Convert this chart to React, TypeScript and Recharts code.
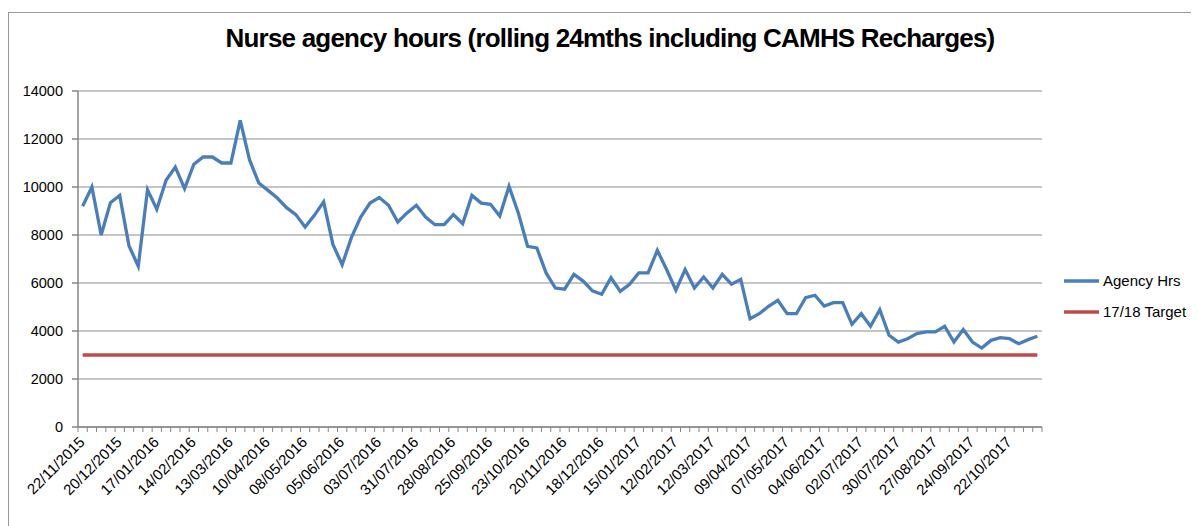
import { CartesianGrid, Legend, Line, LineChart, XAxis, YAxis } from "recharts";

// week-ending dates (weekly, Sundays)
const weeks = [
  "22/11/2015", "29/11/2015", "06/12/2015", "13/12/2015", "20/12/2015", "27/12/2015",
  "03/01/2016", "10/01/2016", "17/01/2016", "24/01/2016", "31/01/2016", "07/02/2016",
  "14/02/2016", "21/02/2016", "28/02/2016", "06/03/2016", "13/03/2016", "20/03/2016",
  "27/03/2016", "03/04/2016", "10/04/2016", "17/04/2016", "24/04/2016", "01/05/2016",
  "08/05/2016", "15/05/2016", "22/05/2016", "29/05/2016", "05/06/2016", "12/06/2016",
  "19/06/2016", "26/06/2016", "03/07/2016", "10/07/2016", "17/07/2016", "24/07/2016",
  "31/07/2016", "07/08/2016", "14/08/2016", "21/08/2016", "28/08/2016", "04/09/2016",
  "11/09/2016", "18/09/2016", "25/09/2016", "02/10/2016", "09/10/2016", "16/10/2016",
  "23/10/2016", "30/10/2016", "06/11/2016", "13/11/2016", "20/11/2016", "27/11/2016",
  "04/12/2016", "11/12/2016", "18/12/2016", "25/12/2016", "01/01/2017", "08/01/2017",
  "15/01/2017", "22/01/2017", "29/01/2017", "05/02/2017", "12/02/2017", "19/02/2017",
  "26/02/2017", "05/03/2017", "12/03/2017", "19/03/2017", "26/03/2017", "02/04/2017",
  "09/04/2017", "16/04/2017", "23/04/2017", "30/04/2017", "07/05/2017", "14/05/2017",
  "21/05/2017", "28/05/2017", "04/06/2017", "11/06/2017", "18/06/2017", "25/06/2017",
  "02/07/2017", "09/07/2017", "16/07/2017", "23/07/2017", "30/07/2017", "06/08/2017",
  "13/08/2017", "20/08/2017", "27/08/2017", "03/09/2017", "10/09/2017", "17/09/2017",
  "24/09/2017", "01/10/2017", "08/10/2017", "15/10/2017", "22/10/2017", "29/10/2017",
  "05/11/2017", "12/11/2017",
];

const agencyHrs = [
  9200, 10000, 8000, 9350, 9650, 7550, 6700, 9880, 9070, 10280, 10830, 9930,
  10950, 11250, 11250, 11000, 11000, 12780, 11140, 10170, 9860, 9540, 9140, 8850,
  8330, 8820, 9380, 7610, 6760, 7900, 8750, 9330, 9560, 9240, 8540, 8920,
  9240, 8750, 8430, 8430, 8850, 8470, 9650, 9330, 9280, 8790, 10030, 8920,
  7530, 7460, 6420, 5790, 5740, 6360, 6080, 5670, 5530, 6220, 5650, 5950,
  6420, 6420, 7360, 6560, 5700, 6560, 5790, 6250, 5790, 6360, 5950, 6150,
  4510, 4720, 5030, 5280, 4720, 4720, 5390, 5490, 5040, 5180, 5180, 4280,
  4720, 4200, 4890, 3820, 3540, 3680, 3890, 3960, 3960, 4200, 3540, 4060,
  3540, 3290, 3610, 3720, 3680, 3470, 3640, 3780,
];

const target1718 = [
  3000, 3000, 3000, 3000, 3000, 3000, 3000, 3000, 3000, 3000, 3000, 3000, 3000,
  3000, 3000, 3000, 3000, 3000, 3000, 3000, 3000, 3000, 3000, 3000, 3000, 3000,
  3000, 3000, 3000, 3000, 3000, 3000, 3000, 3000, 3000, 3000, 3000, 3000, 3000,
  3000, 3000, 3000, 3000, 3000, 3000, 3000, 3000, 3000, 3000, 3000, 3000, 3000,
  3000, 3000, 3000, 3000, 3000, 3000, 3000, 3000, 3000, 3000, 3000, 3000, 3000,
  3000, 3000, 3000, 3000, 3000, 3000, 3000, 3000, 3000, 3000, 3000, 3000, 3000,
  3000, 3000, 3000, 3000, 3000, 3000, 3000, 3000, 3000, 3000, 3000, 3000, 3000,
  3000, 3000, 3000, 3000, 3000, 3000, 3000, 3000, 3000, 3000, 3000, 3000, 3000,
];

const yTicks = [0, 2000, 4000, 6000, 8000, 10000, 12000, 14000];

const data = weeks.map((week, i) => ({
  week,
  agency: agencyHrs[i],
  target: target1718[i],
}));

const FONT = "'Liberation Sans', Arial, sans-serif";
const AXIS_GREY = "#868686";
const BLUE = "#4a7ebb";
const RED = "#be4b48";

const W = 1191;
const H = 518;
const MARGIN = { top: 83, right: 157, bottom: 9, left: 10 };
const PLOT_W = W - MARGIN.left - 60 - MARGIN.right;
const CAT_W = PLOT_W / weeks.length;

// Excel-style category ticks: marks on every boundary, a label every 4 weeks
function WeekTick(props: any) {
  const { x, y, payload, index } = props;
  const half = CAT_W / 2;
  const ax = x + 3;
  const ay = y + 16;
  return (
    <g>
      <line x1={x - half} x2={x - half} y1={y} y2={y + 5} stroke={AXIS_GREY} />
      {index === weeks.length - 1 && (
        <line x1={x + half} x2={x + half} y1={y} y2={y + 5} stroke={AXIS_GREY} />
      )}
      {index % 4 === 0 && (
        <text
          x={ax}
          y={ay}
          transform={`rotate(-45, ${ax}, ${ay})`}
          textAnchor="end"
          fontSize={15}
          fontFamily={FONT}
          fill="#000"
        >
          {payload.value}
        </text>
      )}
    </g>
  );
}

function LegendBox({ payload }: any) {
  return (
    <div style={{ fontFamily: FONT, fontSize: 15, color: "#000" }}>
      {(payload ?? []).map((entry: any) => (
        <div
          key={entry.value}
          style={{ display: "flex", alignItems: "center", height: 31 }}
        >
          <svg width={37} height={6} style={{ marginRight: 3 }}>
            <line x1={1} x2={36} y1={3} y2={3} stroke={entry.color} strokeWidth={3.3} />
          </svg>
          <span>{entry.value}</span>
        </div>
      ))}
    </div>
  );
}

export default function App() {
  return (
    <div style={{ position: "relative", width: W, height: H, overflow: "hidden" }}>
      <div
        style={{
          position: "absolute",
          left: 0,
          top: 4,
          width: W + 40,
          height: H + 40,
          border: "1.5px solid #999",
          boxSizing: "border-box",
        }}
      />
      <div
        style={{
          position: "absolute",
          left: 0,
          top: 15,
          width: 1204,
          textAlign: "center",
          fontFamily: FONT,
          fontWeight: "bold",
          fontSize: 26,
          letterSpacing: -0.8,
          color: "#000",
        }}
      >
        Nurse agency hours (rolling 24mths including CAMHS Recharges)
      </div>
      <LineChart width={W} height={H} data={data} margin={MARGIN}>
        <CartesianGrid vertical={false} stroke="#8c8c8c" />
        <XAxis
          dataKey="week"
          interval={0}
          height={90}
          padding={{ left: CAT_W / 2, right: CAT_W / 2 }}
          tickLine={false}
          tickSize={0}
          tickMargin={0}
          tick={<WeekTick />}
          stroke={AXIS_GREY}
          strokeWidth={1.5}
        />
        <YAxis
          width={60}
          domain={[0, 14000]}
          ticks={yTicks}
          interval={0}
          tickSize={6}
          tickMargin={9}
          stroke={AXIS_GREY}
          strokeWidth={1.5}
          tick={{ fontSize: 14.5, fontFamily: FONT, fill: "#000" }}
        />
        <Legend
          layout="vertical"
          align="center"
          verticalAlign="middle"
          itemSorter="dataKey"
          wrapperStyle={{ left: 1055, top: 257, width: 136 }}
          content={<LegendBox />}
        />
        <Line
          type="linear"
          dataKey="agency"
          name="Agency Hrs"
          stroke={BLUE}
          strokeWidth={3.3}
          dot={false}
          isAnimationActive={false}
        />
        <Line
          type="linear"
          dataKey="target"
          name="17/18 Target"
          stroke={RED}
          strokeWidth={3.3}
          dot={false}
          isAnimationActive={false}
        />
      </LineChart>
    </div>
  );
}
